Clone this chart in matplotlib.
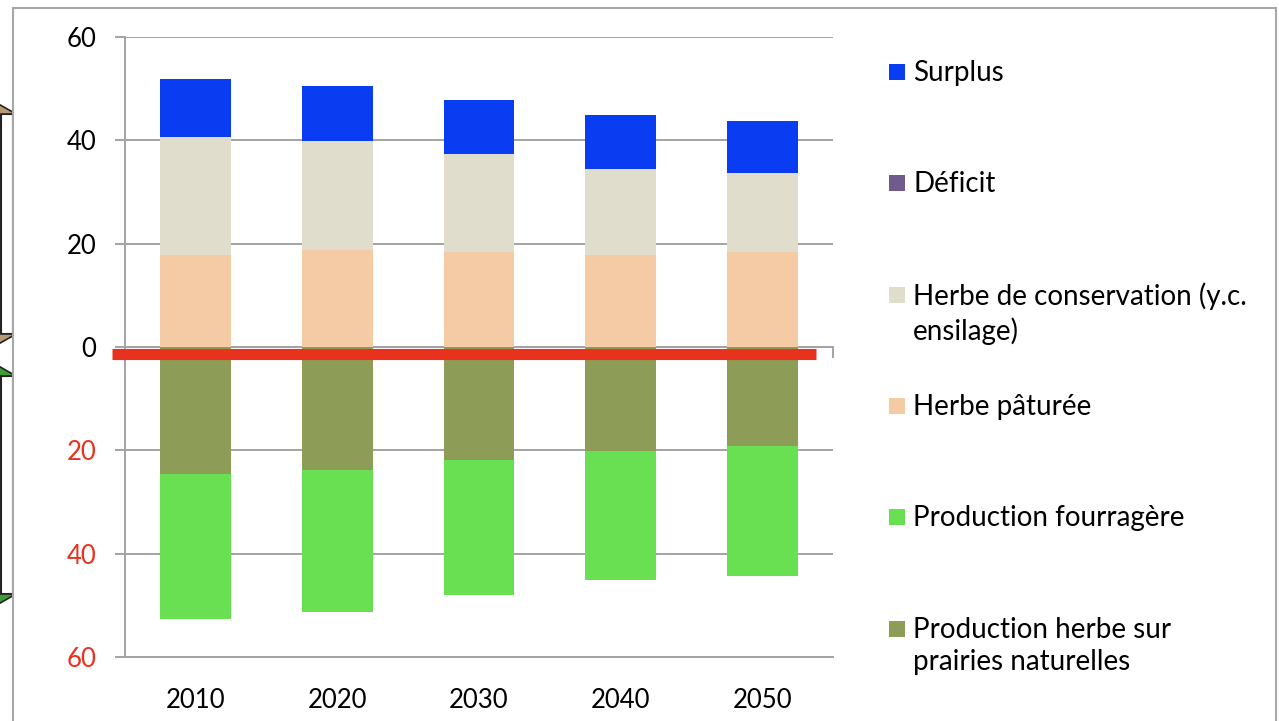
import matplotlib
matplotlib.use("Agg")
import matplotlib.pyplot as plt
from matplotlib.patches import Rectangle, Polygon
from matplotlib.ticker import FuncFormatter

plt.rcParams['font.family'] = ['Lato', 'DejaVu Sans']

years = ['2010', '2020', '2030', '2040', '2050']

# besoins (au-dessus de zéro)
herbe_paturee = [17.8, 18.7, 18.3, 17.8, 18.3]
herbe_conservation = [22.9, 21.2, 19.1, 16.7, 15.4]
deficit = [0, 0, 0, 0, 0]
surplus = [11.1, 10.6, 10.5, 10.5, 10.0]

# ressources (sous zéro, valeurs en absolu)
prod_prairies = [24.5, 23.8, 21.8, 20.1, 19.2]
prod_fourragere = [28.1, 27.5, 26.2, 25.0, 25.1]

labels = ['Surplus', 'Déficit', 'Herbe de conservation (y.c.\nensilage)',
          'Herbe pâturée', 'Production fourragère',
          'Production herbe sur\nprairies naturelles']
colors = ['#0a3cf2', '#6f5b8e', '#e0ddcc', '#f4cba5', '#68e052', '#8d9c56']

W, H = 1279, 721
fig = plt.figure(figsize=(W / 100, H / 100), dpi=100)


def px(x, y):
    return x / W, 1 - y / H


#----------------------------#
#  Cadre et flèches à gauche #
#----------------------------#
def double_arrow(top, bottom, color):
    shaft = Rectangle(px(1, bottom - 16), 12 / W, (bottom - top - 32) / H,
                      transform=fig.transFigure, facecolor='white',
                      edgecolor='#222222', lw=1.5, zorder=-3)
    fig.add_artist(shaft)
    head_top = Polygon([px(-12, top), px(16, top + 16), px(-40, top + 16)],
                       closed=True, transform=fig.transFigure, facecolor=color,
                       edgecolor='#222222', lw=1.2, zorder=-3)
    head_bot = Polygon([px(-12, bottom), px(16, bottom - 16), px(-40, bottom - 16)],
                       closed=True, transform=fig.transFigure, facecolor=color,
                       edgecolor='#222222', lw=1.2, zorder=-3)
    fig.add_artist(head_top)
    fig.add_artist(head_bot)


double_arrow(98, 350, '#b89a74')
double_arrow(360, 610, '#3f9b35')

frame = Rectangle(px(13, 740), (1276 - 13) / W, (740 - 8) / H,
                  transform=fig.transFigure, facecolor='white',
                  edgecolor='#a8a8a8', lw=1.5, zorder=-2)
fig.add_artist(frame)

#---------------#
#  Graphique    #
#---------------#
ax = fig.add_axes([125 / W, 1 - 657 / H, (833 - 125) / W, (657 - 37) / H])
ax.patch.set_visible(False)

x = list(range(len(years)))
bw = 0.5

bottom = [0] * len(x)
for vals, col in [(herbe_paturee, colors[3]), (herbe_conservation, colors[2]),
                  (deficit, colors[1]), (surplus, colors[0])]:
    ax.bar(x, vals, bw, bottom=bottom, color=col, zorder=2)
    bottom = [b + v for b, v in zip(bottom, vals)]

bottom = [0] * len(x)
for vals, col in [(prod_prairies, colors[5]), (prod_fourragere, colors[4])]:
    neg = [-v for v in vals]
    ax.bar(x, neg, bw, bottom=bottom, color=col, zorder=2)
    bottom = [b + v for b, v in zip(bottom, neg)]

ax.set_xlim(-0.5, 4.5)
ax.set_ylim(-60, 60)
ax.set_yticks(range(-60, 61, 20))
ax.yaxis.set_major_formatter(FuncFormatter(lambda v, p: f"{abs(int(v))}"))
ax.set_xticks(x)
ax.set_xticklabels(years)

ax.grid(axis='y', color='#a3a3a3', lw=1.4, zorder=0)
ax.set_axisbelow(True)
for s in ['top', 'right']:
    ax.spines[s].set_visible(False)
ax.spines['left'].set_color('#a3a3a3')
ax.spines['left'].set_linewidth(1.4)
ax.spines['bottom'].set_color('#a3a3a3')
ax.spines['bottom'].set_linewidth(1.4)

ax.tick_params(axis='y', length=7.5, width=1.4, color='#a3a3a3',
               labelsize=18.5, pad=13)
ax.tick_params(axis='x', length=0, labelsize=18.5, pad=22)

for lab in ax.get_yticklabels():
    if lab.get_position()[1] < 0:
        lab.set_color('#e8321e')

# axe horizontal à zéro et trait rouge
ax.axhline(0, color='#a3a3a3', lw=1.4, zorder=1)
ax.plot([4.5, 4.5], [0, -2], color='#a3a3a3', lw=1.4, clip_on=False)
ax.plot([-0.59, 4.38], [-1.3, -1.3], color='#e8321e', lw=8,
        solid_capstyle='butt', clip_on=False, zorder=4)

#--------------#
#  Légende     #
#--------------#
for i, (lab, col) in enumerate(zip(labels, colors)):
    yc = 72 + 111.3 * i
    sq = Rectangle(px(889, yc + 8), 16 / W, 16 / H, transform=fig.transFigure,
                   facecolor=col, edgecolor='none', zorder=5)
    fig.add_artist(sq)
    fig.text(913 / W, 1 - (yc - 12) / H, lab, fontsize=20, va='top', ha='left',
             linespacing=1.32)

fig.savefig('out.png', dpi=100)
